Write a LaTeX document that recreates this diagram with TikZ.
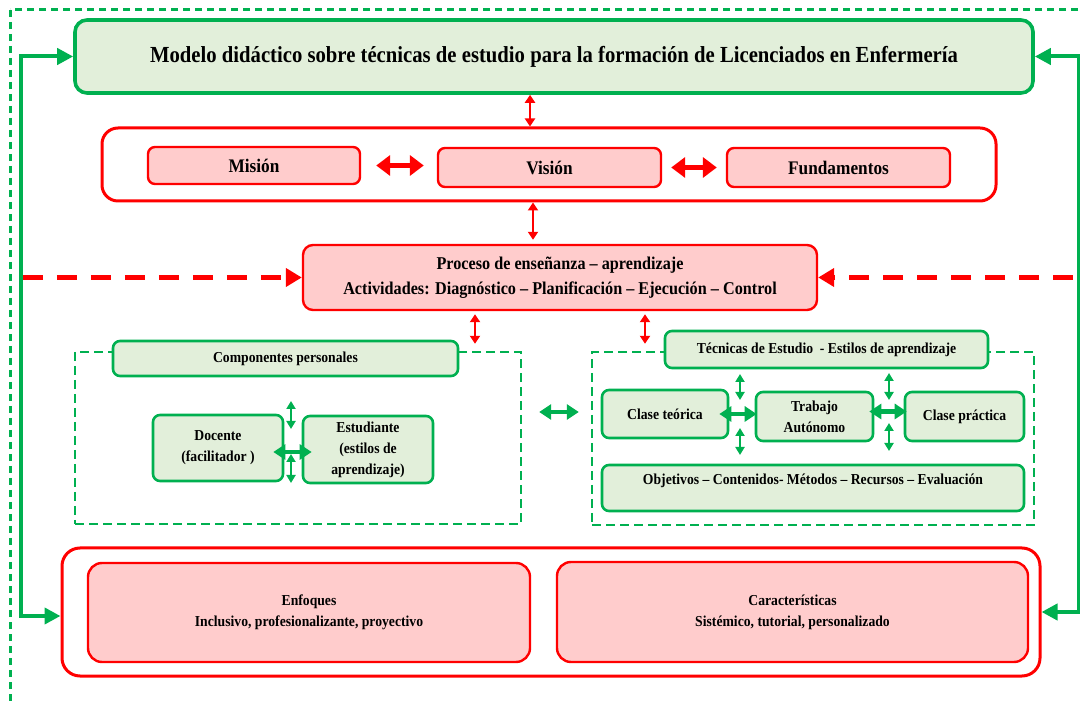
\documentclass[tikz,border=0pt]{standalone}
\usepackage{fontspec}
\setmainfont{Liberation Serif}[FakeStretch=0.9]
\usepackage{tikz}
\usetikzlibrary{arrows.meta}

\definecolor{grn}{HTML}{00B050}
\definecolor{lgrn}{HTML}{E2EFDA}
\definecolor{pnk}{HTML}{FFCCCC}

\begin{document}
\begin{tikzpicture}[x=0.5pt, y=-0.5pt,
  big/.style={font=\fontsize{11.5}{14}\selectfont\bfseries},
  mid/.style={font=\fontsize{9.6}{12.5}\selectfont\bfseries},
  sml/.style={font=\fontsize{7.6}{10.5}\selectfont\bfseries},
  gbox/.style={draw=grn, fill=lgrn, line width=1.3pt, rounded corners=3.5pt, align=center, inner sep=0pt},
  rbox/.style={draw=red, fill=pnk, line width=1.2pt, rounded corners=3.5pt, align=center, inner sep=0pt},
  rframe/.style={draw=red, fill=white, line width=1.5pt, rounded corners=8pt, inner sep=0pt},
  gframe/.style={draw=grn, line width=1.2pt, dash pattern=on 4.5pt off 2.5pt},
  glink/.style={draw=grn, line width=2pt, {Triangle[length=8pt,width=8pt]}-{Triangle[length=8pt,width=8pt]}},
  rlink/.style={draw=red, line width=1pt, {Triangle[length=4pt,width=5pt]}-{Triangle[length=4pt,width=5pt]}},
  rfat/.style={draw=red, line width=2.5pt, {Triangle[length=7pt,width=10pt]}-{Triangle[length=7pt,width=10pt]}},
  gfat/.style={draw=grn, line width=2.2pt, {Triangle[length=6pt,width=7.5pt]}-{Triangle[length=6pt,width=7.5pt]}},
  gthin/.style={draw=grn, line width=1.1pt, {Triangle[length=4pt,width=4.5pt]}-{Triangle[length=4pt,width=4.5pt]}},
  rdash/.style={draw=red, line width=2.5pt, dash pattern=on 10pt off 7pt, -{Triangle[length=8pt,width=9pt]}}]
  \useasboundingbox (0,0) rectangle (1080,704);
  \clip (0,0) rectangle (1080,704);
  \draw[grn, line width=1.5pt, dash pattern=on 3.5pt off 2.5pt] (10,10) rectangle (1100,720);

  \node[gbox, big, line width=1.8pt, rounded corners=6pt, minimum width=479pt, minimum height=36.5pt] (title) at (554,56.5) {Modelo didáctico sobre técnicas de estudio para la formación de Licenciados en Enfermería};

  \node[rframe, minimum width=447pt, minimum height=36.5pt] (mrow) at (549,164.5) {};
  \node[rbox, mid, minimum width=106pt, minimum height=18.5pt] (mision) at (254,165.5) {Misión};
  \node[rbox, mid, minimum width=111.5pt, minimum height=19.5pt] (vision) at (549.5,167.5) {Visión};
  \node[rbox, mid, minimum width=111.5pt, minimum height=19.5pt] (fund) at (838.5,167.5) {Fundamentos};

  \node[rbox, font=\fontsize{9}{12.5}\selectfont\bfseries, rounded corners=5pt, minimum width=257pt, minimum height=32.5pt] (proceso) at (560,277.5) {Proceso de enseñanza – aprendizaje\\Actividades: Diagnóstico – Planificación – Ejecución – Control};

  \node[gframe, minimum width=223pt, minimum height=86pt] (cpframe) at (298,438) {};
  \node[gframe, minimum width=221pt, minimum height=86.5pt] (teframe) at (813,438.5) {};

  \node[gbox, sml, minimum width=172.5pt, minimum height=17.5pt] (comp) at (285.5,358.5) {Componentes personales};
  \node[gbox, sml, minimum width=65pt, minimum height=33pt] (docente) at (218,448) {Docente\\(facilitador\ )};
  \node[gbox, sml, minimum width=65pt, minimum height=33.5pt] (estudiante) at (368,449.5) {Estudiante\\(estilos de\\aprendizaje)};

  \node[gbox, sml, minimum width=161.5pt, minimum height=18.5pt] (tecnicas) at (826.5,349.5) {Técnicas de Estudio\ \ - Estilos de aprendizaje};
  \node[gbox, sml, minimum width=63pt, minimum height=24pt] (teorica) at (665,414) {Clase teórica};
  \node[gbox, sml, minimum width=58.5pt, minimum height=24.5pt] (trabajo) at (814.5,416.5) {Trabajo\\Autónomo};
  \node[gbox, sml, minimum width=59.5pt, minimum height=24.5pt] (practica) at (964.5,416.5) {Clase práctica};
  \node[gbox, sml, minimum width=211pt, minimum height=23pt, text depth=9pt] (objetivos) at (813,488) {Objetivos – Contenidos- Métodos – Recursos – Evaluación};

  \node[rframe, rounded corners=9pt, minimum width=489pt, minimum height=64pt] (bot) at (551,612) {};
  \node[rbox, sml, rounded corners=7pt, minimum width=221pt, minimum height=49.5pt] (enfoques) at (309,612.5) {Enfoques\\Inclusivo, profesionalizante, proyectivo};
  \node[rbox, sml, rounded corners=7pt, minimum width=235.5pt, minimum height=50pt] (caract) at (792.5,612) {Características\\Sistémico, tutorial, personalizado};

  \draw[glink] (title.west) -| ([xshift=-20pt,yshift=-2pt]bot.west) -- ([yshift=-2pt]bot.west);
  \draw[glink] (title.east) -| ([xshift=18.5pt]bot.east) -- (bot.east);

  \draw[rlink] ([xshift=-12pt]title.south) -- ([xshift=-12pt]title.south |- mrow.north);
  \draw[rfat, shorten <=7.5pt, shorten >=6.5pt] (mision.east) -- (mision.east -| vision.west);
  \draw[rfat, shorten <=4.5pt, shorten >=4.5pt] (vision.east) -- (fund.west);
  \draw[rlink, shorten >=2pt] ([xshift=-8pt]mrow.south) -- ([xshift=-8pt]mrow.south |- proceso.north);
  \draw[rdash] ([xshift=-139.5pt]proceso.west) -- (proceso.west);
  \draw[rdash] ([xshift=127.5pt]proceso.east) -- (proceso.east);
  \draw[rlink, shorten <=1.5pt, shorten >=3.5pt] ([xshift=-42.5pt]proceso.south) -- ([xshift=-42.5pt]proceso.south |- cpframe.north);
  \draw[rlink, shorten <=1.5pt, shorten >=3.5pt] ([xshift=42.5pt]proceso.south) -- ([xshift=42.5pt]proceso.south |- teframe.north);

  \draw[gfat, shorten <=8.5pt, shorten >=6pt] ([yshift=13pt]cpframe.east) -- ([yshift=13pt]cpframe.east -| teframe.west);
  \draw[gfat, shorten <=-5.5pt, shorten >=-5pt] ([yshift=-2pt]docente.east) -- ([yshift=-2pt]docente.east -| estudiante.west);
  \draw[gfat, shorten <=-5pt, shorten >=-1pt] (teorica.east) -- (teorica.east -| trabajo.west);
  \draw[gfat, shorten <=-2.5pt, shorten >=-1.5pt] ([yshift=2.5pt]trabajo.east) -- ([yshift=2.5pt]trabajo.east -| practica.west);
  \foreach \x/\ya/\yb in {291/401/429, 291/454/483, 740/374/400, 740/428/455, 889/373/400, 889/423/451}
    \draw[gthin] (\x,\ya) -- (\x,\yb);
\end{tikzpicture}
\end{document}
